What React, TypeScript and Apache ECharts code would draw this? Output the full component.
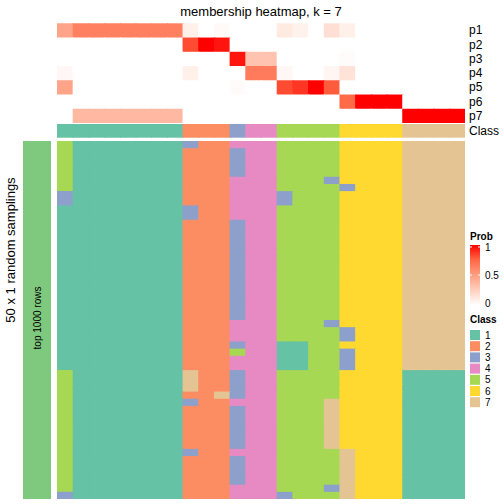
import React, { useEffect, useRef } from "react";
import * as echarts from "echarts";

const columnIds = [
  "c1","c2","c3","c4","c5","c6","c7","c8","c9","c10","c11","c12","c13",
  "c14","c15","c16","c17","c18","c19","c20","c21","c22","c23","c24","c25","c26",
];
const probRowNames = ["p1", "p2", "p3", "p4", "p5", "p6", "p7"];
const p1 = [0.47,0.64,0.64,0.64,0.64,0.64,0.64,0.64,0.08,0,0.03,0,0,0,0.11,0.07,0,0.17,0.08,0,0,0,0,0,0,0];
const p2 = [0,0,0,0,0,0,0,0,0.82,1,0.95,0,0,0,0,0,0,0,0,0,0,0,0,0,0,0];
const p3 = [0,0,0,0,0,0,0,0,0,0,0,0.95,0.31,0.31,0,0,0,0,0.02,0,0,0,0,0,0,0];
const p4 = [0.04,0,0,0,0,0,0,0,0.08,0,0,0,0.66,0.66,0.04,0,0,0.05,0.15,0,0,0,0,0,0,0];
const p5 = [0.47,0,0,0,0,0,0,0,0,0,0,0.02,0,0,0.82,0.87,1,0.78,0,0,0,0,0,0,0,0];
const p6 = [0,0,0,0,0,0,0,0,0,0,0,0,0,0,0,0,0,0,0.74,1,1,1,0,0,0,0];
const p7 = [0,0.36,0.36,0.36,0.36,0.36,0.36,0.36,0,0,0,0,0,0,0,0,0,0,0,0,0,0,1,1,1,1];
const probRows = [p1, p2, p3, p4, p5, p6, p7];

const classAnnotation = "1 1111111 222 3 44 5555 6666 7777";

const samplingRows = [
  "5 1111111 322 4 44 5555 6666 7777",
  "5 1111111 222 3 44 5555 6666 7777",
  "5 1111111 222 3 44 5555 6666 7777",
  "5 1111111 222 3 44 5555 6666 7777",
  "5 1111111 222 3 44 5555 6666 7777",
  "5 1111111 222 4 44 5553 6666 7777",
  "5 1111111 222 4 44 5555 3666 7777",
  "3 1111111 222 4 44 3555 6666 7777",
  "3 1111111 222 4 44 3555 6666 7777",
  "1 1111111 322 4 44 5555 6666 7777",
  "1 1111111 322 4 44 5555 6666 7777",
  "1 1111111 222 3 44 5555 6666 7777",
  "1 1111111 222 3 44 5555 6666 7777",
  "1 1111111 222 3 44 5555 6666 7777",
  "1 1111111 222 3 44 5555 6666 7777",
  "1 1111111 222 3 44 5555 6666 7777",
  "1 1111111 222 3 44 5555 6666 7777",
  "1 1111111 222 3 44 5555 6666 7777",
  "1 1111111 222 3 44 5555 6666 7777",
  "1 1111111 222 3 44 5555 6666 7777",
  "1 1111111 222 3 44 5555 6666 7777",
  "1 1111111 222 3 44 5555 6666 7777",
  "1 1111111 222 3 44 5555 6666 7777",
  "1 1111111 222 3 44 5555 6666 7777",
  "1 1111111 222 3 44 5555 6666 7777",
  "1 1111111 222 4 44 5553 6666 7777",
  "1 1111111 222 4 44 5555 3666 7777",
  "1 1111111 222 4 44 5555 3666 7777",
  "1 1111111 222 3 44 1155 6666 7777",
  "1 1111111 222 5 44 1155 3666 7777",
  "1 1111111 222 4 44 1155 3666 7777",
  "1 1111111 222 4 44 1155 3666 7777",
  "5 1111111 722 3 44 5555 6666 1111",
  "5 1111111 722 3 44 5555 6666 1111",
  "5 1111111 722 3 44 5555 6666 1111",
  "5 1111111 227 3 44 5555 6666 1111",
  "5 1111111 322 4 44 5557 6666 1111",
  "5 1111111 222 3 44 5557 6666 1111",
  "5 1111111 222 3 44 5557 6666 1111",
  "5 1111111 222 3 44 5557 6666 1111",
  "5 1111111 222 3 44 5557 6666 1111",
  "5 1111111 222 3 44 5557 6666 1111",
  "5 1111111 222 3 44 5557 6666 1111",
  "5 1111111 322 4 44 5555 7666 1111",
  "5 1111111 222 3 44 5555 7666 1111",
  "5 1111111 222 3 44 5555 7666 1111",
  "5 1111111 222 3 44 5555 7666 1111",
  "5 1111111 222 3 44 5555 7666 1111",
  "5 1111111 222 4 44 5553 7666 1111",
  "3 1111111 222 4 44 3555 7666 1111",
];

const classLabels = ["1", "2", "3", "4", "5", "6", "7"];
const classColors = ["#66C2A5", "#FC8D62", "#8DA0CB", "#E78AC3", "#A6D854", "#FFD92F", "#E5C494"];
const probStops = ["#FFFFFF", "#FFCFBE", "#FF9E81", "#FF6846", "#FF0000"];
const probTickLabels = ["1", "0.5", "0"];
const probTickValues = [1, 0.5, 0];

const titleText = "membership heatmap, k = 7";
const rowTitle = "50 x 1 random samplings";
const sliceTitle = "top 1000 rows";
const sliceColor = "#7FC97F";

const FONT = "'Liberation Sans', Arial, Helvetica, sans-serif";

const parseRow = (s: string) => s.replace(/ /g, "").split("").map((c) => Number(c));

// cell renderer: rectangles pushed out by a pixel so neighbouring cells leave no seams
const renderCell = (params: any, api: any) => {
  const pt = api.coord([api.value(0), api.value(1)]);
  const size = api.size([1, 1]);
  const cs = params.coordSys;
  const x0 = pt[0] - size[0] / 2;
  const y0 = pt[1] - size[1] / 2;
  const x1 = Math.min(x0 + size[0] + 1.2, cs.x + cs.width);
  const y1 = Math.min(y0 + size[1] + 1.2, cs.y + cs.height);
  return {
    type: "rect",
    shape: { x: x0, y: y0, width: x1 - x0, height: y1 - y0 },
    style: { fill: api.visual("color"), stroke: null, lineWidth: 0 },
  };
};

export default function App() {
  const ref = useRef<HTMLDivElement>(null);

  useEffect(() => {
    if (!ref.current) return;
    const chart = echarts.init(ref.current, null, { renderer: "svg" });

    const probData: number[][] = [];
    probRows.forEach((row, r) => row.forEach((v, c) => probData.push([c, r, v])));
    const annoData = parseRow(classAnnotation).map((v, c) => [c, 0, v]);
    const mainData: number[][] = [];
    samplingRows.forEach((s, r) => parseRow(s).forEach((v, c) => mainData.push([c, r, v])));
    const rowIds = samplingRows.map((_, i) => String(i));

    const L = 57, W = 408;
    const hidden = { show: false };
    const xAxisBase = (gi: number) => ({
      type: "category", gridIndex: gi, data: columnIds, show: false,
    });

    const legendX = 470;
    const gradTop = 245, gradH = 60;
    const tickY = (v: number) => 303 - v * 56;
    const classTop = 330, classStep = 11.2;

    const graphic: any[] = [
      { type: "text", x: 261, y: 11, style: { text: titleText, font: `13px ${FONT}`, fill: "#000", align: "center", verticalAlign: "middle" } },
      { type: "rect", shape: { x: 23, y: 141, width: 28, height: 358 }, style: { fill: sliceColor } },
      { type: "text", x: 37, y: 318, rotation: Math.PI / 2, style: { text: sliceTitle, font: `10px ${FONT}`, fill: "#000", align: "center", verticalAlign: "middle" } },
      { type: "text", x: 10, y: 250, rotation: Math.PI / 2, style: { text: rowTitle, font: `13px ${FONT}`, fill: "#000", align: "center", verticalAlign: "middle" } },
      { type: "text", x: legendX, y: 236, style: { text: "Prob", font: `bold 10px ${FONT}`, fill: "#000", align: "left", verticalAlign: "middle" } },
      {
        type: "rect", shape: { x: legendX, y: gradTop, width: 10, height: gradH },
        style: {
          fill: {
            type: "linear", x: 0, y: 0, x2: 0, y2: 1,
            colorStops: probStops.slice().reverse().map((c, i) => ({ offset: i / (probStops.length - 1), color: c })),
          },
        },
      },
      { type: "text", x: legendX, y: 319, style: { text: "Class", font: `bold 10px ${FONT}`, fill: "#000", align: "left", verticalAlign: "middle" } },
    ];
    probTickValues.forEach((v, i) => {
      const y = tickY(v);
      if (v > 0) {
        graphic.push({ type: "line", shape: { x1: legendX, y1: y, x2: legendX + 2, y2: y }, style: { stroke: "#fff", lineWidth: 1 } });
        graphic.push({ type: "line", shape: { x1: legendX + 8, y1: y, x2: legendX + 10, y2: y }, style: { stroke: "#fff", lineWidth: 1 } });
      }
      graphic.push({ type: "text", x: 485, y, style: { text: probTickLabels[i], font: `10px ${FONT}`, fill: "#000", align: "left", verticalAlign: "middle" } });
    });
    classLabels.forEach((lab, i) => {
      const y = classTop + i * classStep;
      graphic.push({ type: "rect", shape: { x: legendX, y, width: 10, height: 10 }, style: { fill: classColors[i] } });
      graphic.push({ type: "text", x: 485, y: y + 5, style: { text: lab, font: `10px ${FONT}`, fill: "#000", align: "left", verticalAlign: "middle" } });
    });

    const labelAxis = (gi: number, data: string[]) => ({
      type: "category", gridIndex: gi, data, inverse: true, position: "right",
      axisLine: hidden, axisTick: hidden, splitLine: hidden,
      axisLabel: { fontSize: 12, color: "#000", margin: 4, fontFamily: FONT, interval: 0 },
    });

    const option: any = {
      animation: false,
      backgroundColor: "#fff",
      grid: [
        { left: L, top: 23.3, width: W, height: 99.7 },
        { left: L, top: 124, width: W, height: 13.7 },
        { left: L, top: 141, width: W, height: 358 },
      ],
      xAxis: [xAxisBase(0), xAxisBase(1), xAxisBase(2)],
      yAxis: [
        labelAxis(0, probRowNames),
        labelAxis(1, ["Class"]),
        { type: "category", gridIndex: 2, data: rowIds, inverse: true, show: false },
      ],
      visualMap: [
        {
          type: "continuous", min: 0, max: 1, dimension: 2, seriesIndex: 0, show: false,
          inRange: { color: probStops },
        },
        {
          type: "piecewise", dimension: 2, seriesIndex: [1, 2], show: false,
          pieces: classLabels.map((lab, i) => ({ value: Number(lab), color: classColors[i] })),
        },
      ],
      series: [
        { type: "custom", xAxisIndex: 0, yAxisIndex: 0, data: probData, renderItem: renderCell, encode: { x: 0, y: 1 } },
        { type: "custom", xAxisIndex: 1, yAxisIndex: 1, data: annoData, renderItem: renderCell, encode: { x: 0, y: 1 } },
        { type: "custom", xAxisIndex: 2, yAxisIndex: 2, data: mainData, renderItem: renderCell, encode: { x: 0, y: 1 } },
      ],
      graphic,
    };
    chart.setOption(option);
    return () => chart.dispose();
  }, []);

  return <div ref={ref} style={{ position: "fixed", left: 0, top: 0, width: 504, height: 504 }} />;
}
